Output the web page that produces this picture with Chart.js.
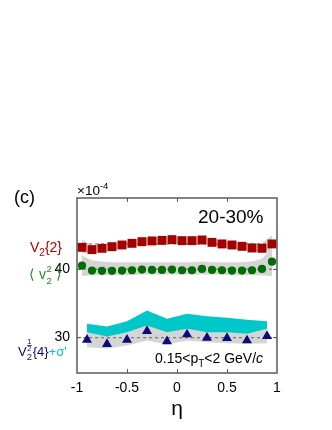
<!DOCTYPE html>
<html>
<head>
<meta charset="utf-8">
<script src="https://cdn.jsdelivr.net/npm/chart.js@4.4.0/dist/chart.umd.min.js"></script>
<style>
  html, body { margin: 0; padding: 0; background: #fff; }
  #wrap { width: 332px; height: 430px; }
</style>
</head>
<body>
<div id="wrap"><canvas id="c" width="332" height="430"></canvas></div>
<script>
(function () {
  'use strict';

  // eta bins for V2{2} and <v2^2>
  var etaFine = [-0.95, -0.85, -0.75, -0.65, -0.55, -0.45, -0.35, -0.25, -0.15, -0.05,
                 0.05, 0.15, 0.25, 0.35, 0.45, 0.55, 0.65, 0.75, 0.85, 0.95];
  var v22 = [43.18, 42.85, 43.04, 43.28, 43.53, 43.77, 44.01, 44.12, 44.2, 44.31,
             44.16, 44.16, 44.26, 43.91, 43.68, 43.53, 43.33, 43.09, 43.04, 43.68];
  var v22Hi = [44.3, 43.5, 43.6, 43.8, 44.0, 44.3, 44.5, 44.6, 44.7, 44.8,
               44.7, 44.7, 44.8, 44.4, 44.2, 44.0, 43.9, 43.7, 43.8, 44.9];
  var v22Lo = [42.3, 42.3, 42.5, 42.7, 43.0, 43.2, 43.5, 43.6, 43.7, 43.8,
               43.6, 43.6, 43.7, 43.4, 43.2, 43.0, 42.8, 42.5, 42.5, 42.6];
  var vsq = [40.51, 39.78, 39.74, 39.74, 39.78, 39.83, 39.93, 39.88, 39.88, 39.93,
             39.83, 39.83, 40.03, 39.88, 39.83, 39.78, 39.78, 39.83, 40.03, 41.09];
  var vsqHi = [42.0, 41.3, 41.1, 41.0, 41.0, 41.0, 41.0, 41.0, 41.0, 41.0,
               41.0, 41.0, 41.1, 41.0, 41.0, 41.0, 41.0, 41.1, 41.5, 43.2];
  var vsqLo = [39.0, 39.1, 39.1, 39.1, 39.1, 39.1, 39.2, 39.2, 39.2, 39.2,
               39.2, 39.2, 39.2, 39.2, 39.2, 39.1, 39.1, 39.1, 39.1, 39.0];

  // eta bins for V2^{1/2}{4}
  var etaCoarse = [-0.9, -0.7, -0.5, -0.3, -0.1, 0.1, 0.3, 0.5, 0.7, 0.9];
  var v24 = [29.66, 29.02, 29.66, 30.92, 29.42, 30.44, 29.95, 29.9, 29.56, 30.19];
  var v24Hi = [30.8, 30.2, 30.8, 31.8, 30.8, 31.3, 30.8, 30.8, 30.6, 31.3];
  var v24Lo = [28.58, 28.39, 28.83, 29.56, 28.98, 29.56, 29.31, 29.17, 29.08, 29.17];
  var sigHi = [32.0, 31.6, 32.38, 33.94, 32.73, 33.46, 33.11, 32.88, 32.58, 32.38];
  var sigLo = [30.77, 30.15, 30.77, 31.75, 30.77, 31.27, 30.77, 30.77, 30.54, 31.27];

  // eta-averaged reference lines
  var meanEta = [-1, 1];
  var v22Mean = [43.68, 43.68];
  var vsqMean = [40.0, 40.0];
  var v24Mean = [29.95, 29.95];

  var yTicks = [30, 40];
  var xMinor = [-0.5, 0, 0.5];

  var FONT = '"Liberation Sans", Arial, Helvetica, sans-serif';
  var RED = '#a50000';
  var GREEN = '#006d00';
  var NAVY = '#0a0a78';
  var CYAN = '#00c8c8';
  var BAND = '#d5d5d5';

  function pts(xs, ys) {
    return xs.map(function (x, i) { return { x: x, y: ys[i] }; });
  }

  function band(xs, ys, fillTo, color) {
    return {
      data: pts(xs, ys),
      borderWidth: 0,
      pointRadius: 0,
      fill: fillTo,
      backgroundColor: color,
      order: 10
    };
  }

  function dashed(ys) {
    return {
      data: pts(meanEta, ys),
      borderColor: '#444',
      borderWidth: 0.8,
      borderDash: [3, 3],
      pointRadius: 0,
      fill: false,
      order: 5
    };
  }

  function markers(xs, ys, style, radius, color) {
    return {
      data: pts(xs, ys),
      showLine: false,
      pointStyle: style,
      pointRadius: radius,
      pointBackgroundColor: color,
      pointBorderColor: color,
      pointBorderWidth: 0,
      order: 1
    };
  }

  var datasets = [
    band(etaFine, v22Lo, false, BAND),
    band(etaFine, v22Hi, '-1', BAND),
    band(etaFine, vsqLo, false, BAND),
    band(etaFine, vsqHi, '-1', BAND),
    band(etaCoarse, v24Lo, false, BAND),
    band(etaCoarse, v24Hi, '-1', BAND),
    band(etaCoarse, sigLo, false, CYAN),
    band(etaCoarse, sigHi, '-1', CYAN),
    dashed(v22Mean),
    dashed(vsqMean),
    dashed(v24Mean),
    markers(etaFine, v22, 'rect', 6.3, RED),
    markers(etaFine, vsq, 'circle', 4.1, GREEN),
    markers(etaCoarse, v24, 'triangle', 5.8, NAVY)
  ];
  // cyan band drawn over the grey one
  datasets[6].order = 9;
  datasets[7].order = 9;

  // draw a run of text pieces: [text, size, dy, color, italic]
  function rich(ctx, x, y, parts) {
    parts.forEach(function (p) {
      ctx.font = (p[4] ? 'italic ' : '') + p[1] + 'px ' + FONT;
      ctx.fillStyle = p[3];
      ctx.fillText(p[0], x, y + p[2]);
      x += ctx.measureText(p[0]).width;
    });
    return x;
  }

  var framePlugin = {
    id: 'frame',
    afterDraw: function (chart) {
      var ctx = chart.ctx;
      var a = chart.chartArea;
      var sx = chart.scales.x;
      var sy = chart.scales.y;
      ctx.save();

      ctx.strokeStyle = '#5a5a5a';
      ctx.lineWidth = 1;
      xMinor.forEach(function (v) {
        var px = Math.round(sx.getPixelForValue(v)) + 0.5;
        ctx.beginPath();
        ctx.moveTo(px, a.top); ctx.lineTo(px, a.top + 4);
        ctx.moveTo(px, a.bottom); ctx.lineTo(px, a.bottom - 4);
        ctx.stroke();
      });
      yTicks.forEach(function (v) {
        var py = Math.round(sy.getPixelForValue(v)) + 0.5;
        ctx.beginPath();
        ctx.moveTo(a.left, py); ctx.lineTo(a.left + 4, py);
        ctx.moveTo(a.right, py); ctx.lineTo(a.right - 4, py);
        ctx.stroke();
      });
      ctx.lineWidth = 1.5;
      ctx.strokeRect(a.left, a.top, a.right - a.left, a.bottom - a.top);

      ctx.textBaseline = 'alphabetic';
      ctx.textAlign = 'left';

      // panel tag and exponent
      rich(ctx, 14, 203, [['(c)', 18, 0, '#000']]);
      var ex = rich(ctx, 77, 195, [['\u00d710', 13.5, 0, '#000']]);
      rich(ctx, ex, 195, [['-4', 9.5, -6.5, '#000']]);

      // centrality and pT range
      rich(ctx, 198, 223, [['20-30%', 19, 0, '#000']]);
      var px = rich(ctx, 155, 362.5, [['0.15<p', 14, 0, '#000']]);
      px = rich(ctx, px, 362.5, [['T', 10, 4, '#000']]);
      px = rich(ctx, px, 362.5, [['<2 GeV/', 14, 0, '#000']]);
      rich(ctx, px, 362.5, [['c', 14, 0, '#000', true]]);

      // series labels
      var lx = rich(ctx, 30, 251.5, [['V', 14, 0, '#b00000']]);
      lx = rich(ctx, lx, 251.5, [['2', 10, 4, '#b00000']]);
      rich(ctx, lx, 251.5, [['{2}', 14, 0, '#b00000']]);

      var gc = '#1b8a1b';
      rich(ctx, 29, 279, [['\u27e8', 14, 0, gc]]);
      var gx = rich(ctx, 39, 279, [['v', 14, 0, gc]]);
      rich(ctx, gx + 0.5, 279, [['2', 9.5, -7, gc]]);
      rich(ctx, gx + 0.5, 279, [['2', 9.5, 5, gc]]);
      rich(ctx, 56, 279, [['\u27e9', 14, 0, gc]]);

      var vx = rich(ctx, 18, 355.5, [['V', 13, 0, NAVY]]);
      rich(ctx, vx + 0.5, 343.5, [['1', 7.5, 0, NAVY]]);
      ctx.fillStyle = NAVY;
      ctx.fillRect(vx + 0.5, 345, 4.5, 0.8);
      rich(ctx, vx + 0.5, 351, [['2', 7.5, 0, NAVY]]);
      rich(ctx, vx, 355.5, [['2', 9.5, 4, NAVY]]);
      var bx = rich(ctx, vx + 6, 355.5, [['{4}', 13, 0, NAVY]]);
      rich(ctx, bx, 355.5, [['+\u03c3\'', 13, 0, CYAN]]);

      ctx.restore();
    }
  };

  new Chart(document.getElementById('c'), {
    type: 'line',
    data: { datasets: datasets },
    options: {
      responsive: false,
      animation: false,
      events: [],
      layout: { padding: { left: 0, right: 55, top: 198, bottom: 0 } },
      plugins: { legend: { display: false }, tooltip: { enabled: false } },
      scales: {
        x: {
          type: 'linear',
          min: -1,
          max: 1,
          grid: { display: false, drawTicks: false },
          border: { display: false },
          ticks: {
            stepSize: 0.5,
            padding: 7,
            color: '#000',
            font: { family: FONT, size: 14 },
            callback: function (v) { return String(Math.round(v * 10) / 10); }
          },
          title: {
            display: true,
            text: '\u03b7',
            color: '#000',
            font: { family: FONT, size: 21 },
            padding: { top: 0, bottom: 8 }
          },
          afterFit: function (s) { s.height = 57; }
        },
        y: {
          type: 'linear',
          min: 24.8,
          max: 50.4,
          grid: { display: false, drawTicks: false },
          border: { display: false },
          ticks: {
            padding: 7,
            color: '#000',
            font: { family: FONT, size: 14 }
          },
          afterBuildTicks: function (s) {
            s.ticks = yTicks.map(function (v) { return { value: v }; });
          },
          afterFit: function (s) { s.width = 77; }
        }
      }
    },
    plugins: [framePlugin]
  });
})();
</script>
</body>
</html>
